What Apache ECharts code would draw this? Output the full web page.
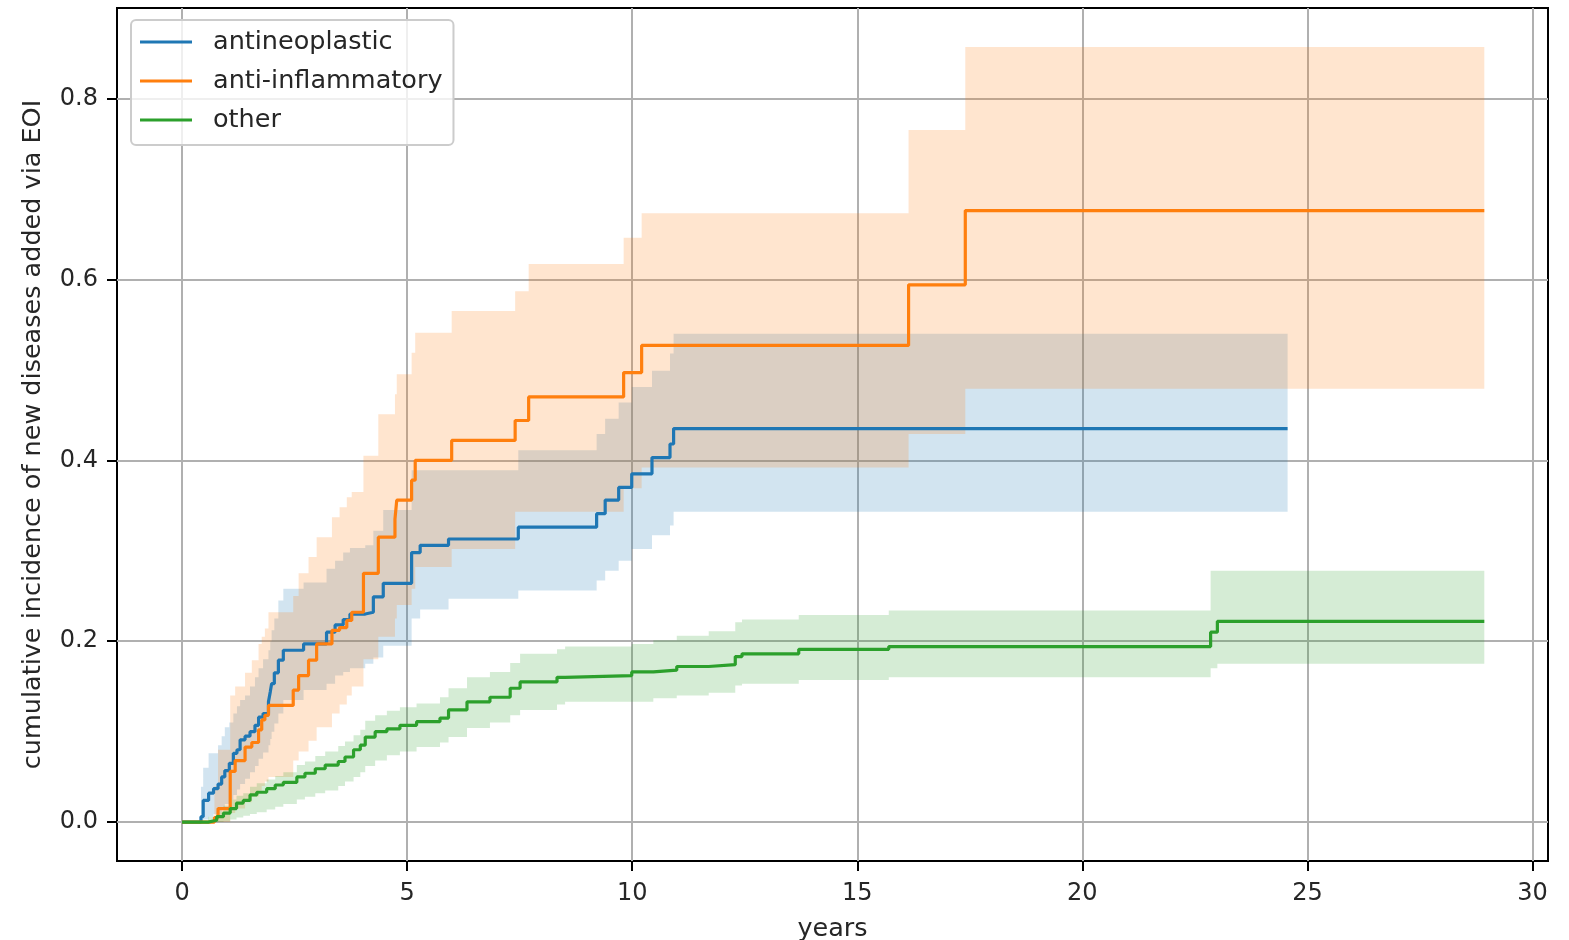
<!DOCTYPE html>
<html>
<head>
<meta charset="utf-8">
<script src="https://cdn.jsdelivr.net/npm/echarts@6/dist/echarts.min.js"></script>
<style>html,body{margin:0;padding:0;background:#fff}#chart{width:1569px;height:940px}</style>
</head>
<body>
<div id="chart"></div>
<script>
// ---- data ----
const seriesNames = ['antineoplastic', 'anti-inflammatory', 'other'];
const xTicks = [0, 5, 10, 15, 20, 25, 30];
const yTicks = [0.0, 0.2, 0.4, 0.6, 0.8];

const antineoplasticT = [0, 0.42, 0.47, 0.59, 0.70, 0.80, 0.88, 0.95, 1.05, 1.14, 1.22, 1.29, 1.40, 1.51, 1.62, 1.70, 1.80, 1.92, 1.96, 1.99, 2.05, 2.14, 2.25, 2.70, 3.21, 3.40, 3.58, 3.73, 4.07, 4.25, 4.47, 5.10, 5.29, 5.92, 7.47, 9.21, 9.40, 9.70, 9.99, 10.44, 10.84, 10.92, 24.56];
const antineoplasticV = [0, 0.006, 0.024, 0.032, 0.037, 0.042, 0.050, 0.057, 0.065, 0.076, 0.080, 0.091, 0.095, 0.100, 0.107, 0.116, 0.120, 0.133, 0.144, 0.153, 0.165, 0.179, 0.190, 0.197, 0.210, 0.218, 0.224, 0.230, 0.232, 0.249, 0.264, 0.298, 0.306, 0.313, 0.326, 0.341, 0.356, 0.370, 0.385, 0.403, 0.418, 0.435, 0.435];
const antineoplasticLo = [0, 0, 0.003, 0.006, 0.009, 0.012, 0.016, 0.020, 0.025, 0.030, 0.036, 0.042, 0.048, 0.055, 0.062, 0.070, 0.077, 0.085, 0.092, 0.100, 0.109, 0.120, 0.135, 0.146, 0.153, 0.162, 0.166, 0.170, 0.175, 0.182, 0.195, 0.225, 0.235, 0.247, 0.256, 0.267, 0.278, 0.289, 0.302, 0.317, 0.328, 0.343, 0.343];
const antineoplasticHi = [0, 0.039, 0.060, 0.076, 0.076, 0.085, 0.095, 0.105, 0.110, 0.120, 0.128, 0.135, 0.140, 0.150, 0.160, 0.170, 0.180, 0.190, 0.200, 0.212, 0.225, 0.245, 0.258, 0.265, 0.280, 0.289, 0.298, 0.303, 0.306, 0.322, 0.345, 0.389, 0.389, 0.389, 0.411, 0.429, 0.446, 0.464, 0.481, 0.499, 0.518, 0.540, 0.540];

const antiInflammatoryT = [0, 0.72, 0.80, 1.07, 1.18, 1.40, 1.55, 1.70, 1.77, 1.84, 1.92, 2.47, 2.59, 2.81, 2.99, 3.33, 3.50, 3.66, 3.77, 4.03, 4.36, 4.73, 4.77, 5.10, 5.18, 5.99, 7.40, 7.70, 9.81, 10.21, 16.14, 17.40, 28.93];
const antiInflammatoryV = [0, 0.005, 0.015, 0.056, 0.068, 0.083, 0.088, 0.102, 0.113, 0.118, 0.129, 0.146, 0.162, 0.179, 0.197, 0.212, 0.215, 0.223, 0.232, 0.275, 0.315, 0.335, 0.356, 0.378, 0.400, 0.422, 0.444, 0.470, 0.497, 0.527, 0.594, 0.676, 0.676];
const antiInflammatoryLo = [0, 0, 0, 0.010, 0.015, 0.022, 0.028, 0.035, 0.040, 0.045, 0.050, 0.068, 0.078, 0.090, 0.105, 0.120, 0.130, 0.140, 0.150, 0.180, 0.205, 0.225, 0.240, 0.258, 0.282, 0.302, 0.343, 0.343, 0.369, 0.392, 0.429, 0.479, 0.479];
const antiInflammatoryHi = [0, 0.040, 0.080, 0.140, 0.150, 0.165, 0.179, 0.197, 0.205, 0.214, 0.232, 0.250, 0.275, 0.293, 0.315, 0.337, 0.348, 0.359, 0.365, 0.405, 0.451, 0.473, 0.495, 0.519, 0.541, 0.565, 0.587, 0.617, 0.646, 0.673, 0.765, 0.857, 0.857];

const otherT = [0, 0.58, 0.77, 0.92, 1.07, 1.21, 1.36, 1.51, 1.66, 1.88, 2.07, 2.25, 2.55, 2.73, 2.96, 3.18, 3.47, 3.62, 3.81, 3.96, 4.07, 4.29, 4.55, 4.84, 5.21, 5.73, 5.92, 6.33, 6.84, 7.29, 7.51, 8.33, 8.51, 9.99, 10.47, 10.99, 11.70, 12.29, 12.44, 13.70, 15.70, 22.85, 23.00, 28.93];
const otherV = [0, 0.002, 0.006, 0.010, 0.015, 0.021, 0.024, 0.030, 0.033, 0.037, 0.041, 0.044, 0.050, 0.054, 0.059, 0.063, 0.067, 0.072, 0.080, 0.085, 0.094, 0.100, 0.103, 0.107, 0.111, 0.115, 0.124, 0.133, 0.138, 0.148, 0.155, 0.160, 0.162, 0.166, 0.168, 0.172, 0.174, 0.183, 0.186, 0.191, 0.194, 0.210, 0.222, 0.222];
const otherLo = [0, 0, 0, 0.001, 0.003, 0.005, 0.007, 0.009, 0.011, 0.014, 0.017, 0.020, 0.025, 0.028, 0.032, 0.035, 0.040, 0.045, 0.050, 0.055, 0.062, 0.068, 0.074, 0.078, 0.083, 0.088, 0.094, 0.104, 0.110, 0.118, 0.124, 0.130, 0.133, 0.133, 0.137, 0.140, 0.143, 0.151, 0.153, 0.157, 0.160, 0.170, 0.175, 0.175];
const otherHi = [0, 0.006, 0.012, 0.018, 0.025, 0.029, 0.032, 0.039, 0.043, 0.047, 0.051, 0.055, 0.063, 0.067, 0.073, 0.078, 0.084, 0.089, 0.096, 0.102, 0.112, 0.118, 0.123, 0.127, 0.131, 0.138, 0.148, 0.160, 0.166, 0.176, 0.186, 0.191, 0.194, 0.197, 0.201, 0.206, 0.211, 0.221, 0.224, 0.229, 0.234, 0.278, 0.278, 0.278];

// ---- styling ----
const colors = ['#1f77b4', '#ff7f0e', '#2ca02c'];
const FONT = 'DejaVu Sans';
const TXT = '#262626';

const groups = [
  { name: seriesNames[0], t: antineoplasticT, v: antineoplasticV, lo: antineoplasticLo, hi: antineoplasticHi },
  { name: seriesNames[1], t: antiInflammatoryT, v: antiInflammatoryV, lo: antiInflammatoryLo, hi: antiInflammatoryHi },
  { name: seriesNames[2], t: otherT, v: otherV, lo: otherLo, hi: otherHi }
];

const pairs = (t, v) => t.map((x, i) => [x, v[i]]);

const series = [];
// confidence bands: one step-shaped polygon per group, placed through the axes' scales
groups.forEach((g, k) => {
  series.push({
    type: 'custom', name: g.name + ' band', silent: true, z: 1,
    data: [[g.t[0], g.lo[0]]],
    renderItem: function (params, api) {
      const pts = [];
      for (let i = 0; i < g.t.length - 1; i++) {
        pts.push(api.coord([g.t[i], g.hi[i]]));
        pts.push(api.coord([g.t[i + 1], g.hi[i]]));
      }
      for (let i = g.t.length - 2; i >= 0; i--) {
        pts.push(api.coord([g.t[i + 1], g.lo[i]]));
        pts.push(api.coord([g.t[i], g.lo[i]]));
      }
      return { type: 'polygon', shape: { points: pts }, style: { fill: colors[k], opacity: 0.2 } };
    }
  });
});
groups.forEach((g, k) => {
  series.push({
    type: 'line', name: g.name, step: 'end', symbol: 'none', data: pairs(g.t, g.v),
    lineStyle: { color: colors[k], width: 3.2 }, itemStyle: { color: colors[k] }, z: 3,
    emphasis: { disabled: true }
  });
});

const chart = echarts.init(document.getElementById('chart'), null, { renderer: 'canvas' });
chart.setOption({
  animation: false,
  backgroundColor: '#fff',
  grid: { left: 117, right: 21, top: 8, bottom: 79, show: true, borderColor: '#000', borderWidth: 2, outerBoundsMode: 'none' },
  legend: {
    data: seriesNames, orient: 'vertical', left: 131, top: 20, icon: 'rect',
    padding: [9, 11, 12, 9], itemWidth: 52, itemHeight: 3, itemGap: 13,
    backgroundColor: 'rgba(255,255,255,0.8)', borderColor: '#cccccc', borderWidth: 2, borderRadius: 5,
    textStyle: { fontFamily: FONT, fontSize: 25.5, color: TXT, padding: [0, 0, 0, 16] },
    selectedMode: false
  },
  xAxis: {
    type: 'value', min: -1.445, max: 30.345, splitNumber: 6,
    name: 'years', nameLocation: 'middle', nameGap: 55,
    nameTextStyle: { fontFamily: FONT, fontSize: 25.5, color: TXT },
    axisLine: { show: false, onZero: false },
    axisTick: { show: true, length: 10, lineStyle: { color: '#000', width: 2 }, customValues: xTicks },
    axisLabel: { fontFamily: FONT, fontSize: 24, color: TXT, margin: 21, customValues: xTicks, formatter: v => String(v) },
    splitLine: { show: true, lineStyle: { color: '#b0b0b0', width: 2 } }
  },
  yAxis: {
    type: 'value', min: -0.043, max: 0.90, splitNumber: 5,
    name: 'cumulative incidence of new diseases added via EOI', nameLocation: 'middle', nameGap: 71, nameRotate: 90,
    nameTextStyle: { fontFamily: FONT, fontSize: 25.5, color: TXT },
    axisLine: { show: false, onZero: false },
    axisTick: { show: true, length: 10, lineStyle: { color: '#000', width: 2 }, customValues: yTicks },
    axisLabel: { fontFamily: FONT, fontSize: 24, color: TXT, margin: 19, customValues: yTicks, formatter: v => v.toFixed(1) },
    splitLine: { show: true, lineStyle: { color: '#b0b0b0', width: 2 } }
  },
  series: series
});
</script>
</body>
</html>
